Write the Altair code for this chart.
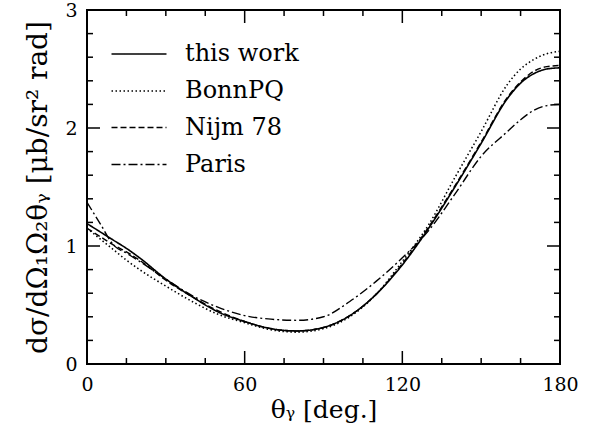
import altair as alt
import pandas as pd

# ---- data ----
angles = [0, 5, 10, 15, 20, 30, 40, 50, 60, 70, 80, 90, 100, 110, 120, 130, 140, 150, 160, 165, 170, 175, 180]
this_work = [1.19, 1.12, 1.05, 0.98, 0.90, 0.72, 0.57, 0.44, 0.36, 0.30, 0.28, 0.31, 0.41, 0.59, 0.84, 1.15, 1.50, 1.87, 2.25, 2.38, 2.46, 2.50, 2.51]
bonn_pq   = [1.15, 1.06, 0.97, 0.88, 0.80, 0.66, 0.53, 0.42, 0.35, 0.29, 0.27, 0.30, 0.40, 0.59, 0.87, 1.18, 1.58, 1.97, 2.37, 2.50, 2.58, 2.63, 2.65]
nijm_78   = [1.15, 1.08, 1.01, 0.95, 0.88, 0.71, 0.57, 0.45, 0.36, 0.30, 0.28, 0.31, 0.41, 0.59, 0.85, 1.16, 1.51, 1.88, 2.26, 2.39, 2.48, 2.52, 2.53]
paris     = [1.37, 1.19, 1.01, 0.94, 0.87, 0.72, 0.58, 0.48, 0.41, 0.38, 0.37, 0.40, 0.53, 0.70, 0.90, 1.13, 1.44, 1.76, 1.97, 2.07, 2.15, 2.19, 2.20]

series_names = ["this work", "BonnPQ", "Nijm 78", "Paris"]
series_values = [this_work, bonn_pq, nijm_78, paris]

x_major = [0, 60, 120, 180]
x_minor = [15, 30, 45, 75, 90, 105, 135, 150, 165]
y_labels = [0, 1, 2, 3]
y_major = [1, 2]
y_minor = [0.2, 0.4, 0.6, 0.8, 1.2, 1.4, 1.6, 1.8, 2.2, 2.4, 2.6, 2.8]

rows = []
for name, vals in zip(series_names, series_values):
    for a, v in zip(angles, vals):
        rows.append({"theta": a, "value": v, "series": name})
df = pd.DataFrame(rows)

W, H = 473, 354
FONT = "DejaVu Serif"
MAJ, MIN = 13, 6

xs = alt.Scale(domain=[0, 180], nice=False, zero=False)
ys = alt.Scale(domain=[0, 3], nice=False, zero=False)

lines = alt.Chart(df).mark_line(color="black", interpolate="monotone").encode(
    x=alt.X("theta:Q", scale=xs, axis=alt.Axis(
        orient="bottom", values=x_major, format="d", ticks=False, domain=False, grid=False,
        labelFlush=False, labelFont=FONT, labelFontSize=19, labelColor="black", labelPadding=11,
        title="θᵧ [deg.]", titleFont=FONT, titleFontSize=25, titleFontWeight="normal",
        titleColor="black", titlePadding=3)),
    y=alt.Y("value:Q", scale=ys, axis=alt.Axis(
        orient="left", values=y_labels, format="d", ticks=False, domain=False, grid=False,
        labelFlush=False, labelFont=FONT, labelFontSize=19, labelColor="black", labelPadding=10,
        title="dσ/dΩ₁Ω₂θᵧ [μb/sr² rad]", titleFont=FONT, titleFontSize=28,
        titleFontWeight="normal", titleColor="black", titlePadding=12)),
    strokeDash=alt.StrokeDash("series:N", sort=series_names, scale=alt.Scale(
        domain=series_names, range=[[1, 0], [1.5, 2.5], [6, 3], [9, 3, 2, 3]]),
        legend=alt.Legend(orient="none", legendX=37, legendY=29, title=None,
                          symbolType="M-2,0L2,0", symbolSize=756, symbolStrokeWidth=1.4,
                          symbolStrokeColor="black", labelFont=FONT, labelFontSize=24,
                          labelColor="black", labelOffset=31, rowPadding=10, padding=0)),
    strokeWidth=alt.StrokeWidth("series:N", scale=alt.Scale(
        domain=series_names, range=[1.6, 1.4, 1.3, 1.3]), legend=None),
)

xt_major = pd.DataFrame({"t": x_major})
xt_minor = pd.DataFrame({"t": x_minor})
yt_major = pd.DataFrame({"t": y_major})
yt_minor = pd.DataFrame({"t": y_minor})


def xticks(data, size):
    bottom = alt.Chart(data).mark_rule(color="black", strokeWidth=1.5).encode(
        x=alt.X("t:Q", scale=xs), y=alt.value(H), y2=alt.value(H - size))
    top = alt.Chart(data).mark_rule(color="black", strokeWidth=1.5).encode(
        x=alt.X("t:Q", scale=xs), y=alt.value(0), y2=alt.value(size))
    return [bottom, top]


def yticks(data, size):
    left = alt.Chart(data).mark_rule(color="black", strokeWidth=1.5).encode(
        y=alt.Y("t:Q", scale=ys), x=alt.value(0), x2=alt.value(size))
    right = alt.Chart(data).mark_rule(color="black", strokeWidth=1.5).encode(
        y=alt.Y("t:Q", scale=ys), x=alt.value(W), x2=alt.value(W - size))
    return [left, right]


tick_layers = (xticks(xt_major, MAJ) + xticks(xt_minor, MIN)
               + yticks(yt_major, MAJ) + yticks(yt_minor, MIN))

chart = alt.layer(lines, *tick_layers).properties(
    width=W, height=H,
    autosize=alt.AutoSizeParams(type="none"),
    padding={"left": 87, "top": 10, "right": 31, "bottom": 74},
    background="white",
).configure(font=FONT).configure_view(stroke="black", strokeWidth=2)

chart.save("out.html", embed_options={"renderer": "svg", "actions": False})
